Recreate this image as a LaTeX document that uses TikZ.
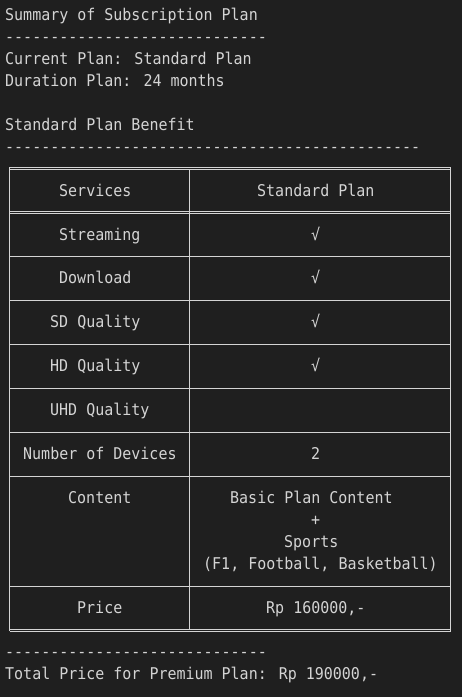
\documentclass[tikz,border=0pt]{standalone}
\usepackage{fontspec}
\newfontfamily\termfont[Ligatures=TeXOff,FakeStretch=0.925]{DejaVu Sans Mono}
\usetikzlibrary{positioning}
\definecolor{termbg}{RGB}{31,31,31}
\definecolor{termfg}{RGB}{212,212,212}

\begin{document}
\begin{tikzpicture}[x=1pt,y=-1pt,
  txt/.style={font=\termfont\fontsize{16.2}{19}\selectfont,text=termfg,anchor=base west,inner sep=0pt},
  rule/.style={draw=termfg,line width=1pt}]
\fill[termbg] (0,0) rectangle (462,697);
\useasboundingbox (0,0) rectangle (462,697);

\node[txt] (title) at (5,20.5) {Summary of Subscription Plan};
\node[txt] (dashA) at (5,42.45) {-----------------------------};
\node[txt] (current) at (5,64.4) {Current Plan: Standard Plan};
\node[txt] (duration) at (5,86.35) {Duration Plan: 24 months};
\node[txt] (benefit) at (5,130.25) {Standard Plan Benefit};
\node[txt] (dashB) at (5,152.2) {----------------------------------------------};

% table frame
\draw[rule] (9.5,167) -- (450.5,167);
\draw[rule] (9.5,169) -- (450.5,169);
\draw[rule] (9.5,211) -- (450.5,211);
\draw[rule] (9.5,213) -- (450.5,213);
\draw[rule] (9.5,256.95) -- (450.5,256.95);
\draw[rule] (9.5,300.85) -- (450.5,300.85);
\draw[rule] (9.5,344.75) -- (450.5,344.75);
\draw[rule] (9.5,388.65) -- (450.5,388.65);
\draw[rule] (9.5,432.55) -- (450.5,432.55);
\draw[rule] (9.5,476.45) -- (450.5,476.45);
\draw[rule] (9.5,586.2) -- (450.5,586.2);
\draw[rule] (9.5,629.3) -- (450.5,629.3);
\draw[rule] (9.5,631.3) -- (450.5,631.3);
\draw[rule] (9.5,167) -- (9.5,631.3);
\draw[rule] (450.5,167) -- (450.5,631.3);
\draw[rule] (189.5,169) -- (189.5,629.3);

% table cells
\node[txt] (svcHead) at (59,196.1) {Services};
\node[txt] (planHead) at (257,196.1) {Standard Plan};
\node[txt] (stream) at (59,240) {Streaming};
\node[txt] (streamOk) at (311,240) {√};
\node[txt] (download) at (59,283.9) {Download};
\node[txt] (downloadOk) at (311,283.9) {√};
\node[txt] (sd) at (50,327.8) {SD Quality};
\node[txt] (sdOk) at (311,327.8) {√};
\node[txt] (hd) at (50,371.7) {HD Quality};
\node[txt] (hdOk) at (311,371.7) {√};
\node[txt] (uhd) at (50,415.6) {UHD Quality};
\node[txt] (devices) at (23,459.5) {Number of Devices};
\node[txt] (devicesNum) at (311,459.5) {2};
\node[txt] (content) at (68,503.4) {Content};
\node[txt] (contentA) at (230,503.4) {Basic Plan Content};
\node[txt] (contentB) at (311,525.35) {+};
\node[txt] (contentC) at (284,547.3) {Sports};
\node[txt] (contentD) at (203,569.25) {(F1, Football, Basketball)};
\node[txt] (price) at (77,613.15) {Price};
\node[txt] (priceVal) at (266,613.15) {Rp 160000,-};

\node[txt] (dashC) at (5,657.05) {-----------------------------};
\node[txt] (total) at (5,679) {Total Price for Premium Plan: Rp 190000,-};

\end{tikzpicture}
\end{document}
